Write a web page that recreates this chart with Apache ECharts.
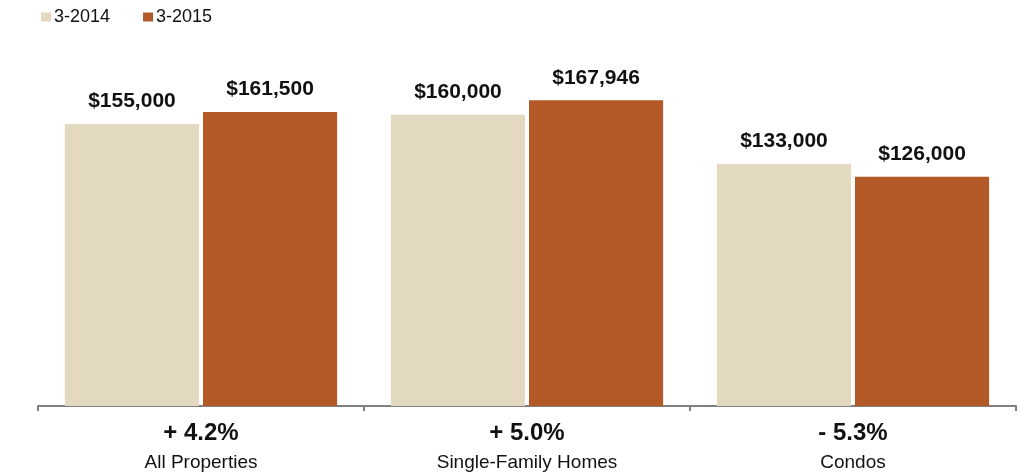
<!DOCTYPE html>
<html><head><meta charset="utf-8">
<script src="https://cdn.jsdelivr.net/npm/echarts@6/dist/echarts.min.js"></script>
<style>html,body{margin:0;padding:0;background:#fff}#c{width:1018px;height:473px}</style>
</head><body><div id="c"></div>
<script>
const categories = ['All Properties', 'Single-Family Homes', 'Condos'];
const changes = ['+ 4.2%', '+ 5.0%', '- 5.3%'];
const seriesNames = ['3-2014', '3-2015'];
const values2014 = [155000, 160000, 133000];
const values2015 = [161500, 167946, 126000];
const colors = ['#E3D8C0', '#B35827'];

const font = 'Liberation Sans, Arial, Helvetica, sans-serif';
const fmt = v => '$' + v.toLocaleString('en-US');

const chart = echarts.init(document.getElementById('c'));
chart.setOption({
  animation: false,
  color: colors,
  legend: {
    left: 36, top: 3, itemWidth: 10, itemHeight: 9, itemGap: 33,
    icon: 'rect',
    textStyle: { fontFamily: font, fontSize: 18, color: '#111', padding: [0,0,0,-2] },
    data: seriesNames
  },
  grid: { left: 38, right: 2, top: 42, bottom: 67 },
  xAxis: {
    type: 'category',
    data: categories,
    axisLine: { lineStyle: { color: '#808080', width: 2 } },
    axisTick: { show: true, length: 5, lineStyle: { color: '#808080', width: 2 } },
    axisLabel: {
      margin: 12,
      formatter: (v, i) => '{p|' + changes[i] + '}\n{c|' + v + '}',
      rich: {
        p: { fontFamily: font, fontSize: 24, fontWeight: 'bold', color: '#111', lineHeight: 30 },
        c: { fontFamily: font, fontSize: 19, color: '#111', lineHeight: 30 }
      }
    }
  },
  yAxis: { type: 'value', min: 0, max: 200000, show: false, splitLine: { show: false } },
  series: [values2014, values2015].map((d, k) => ({
    name: seriesNames[k],
    type: 'bar',
    data: d,
    barGap: '3%',
    barCategoryGap: '16.5%',
    label: {
      show: true, position: 'top', distance: 12,
      formatter: p => fmt(p.value),
      fontFamily: font, fontSize: 21, fontWeight: 'bold', color: '#111'
    }
  }))
});
</script></body></html>
